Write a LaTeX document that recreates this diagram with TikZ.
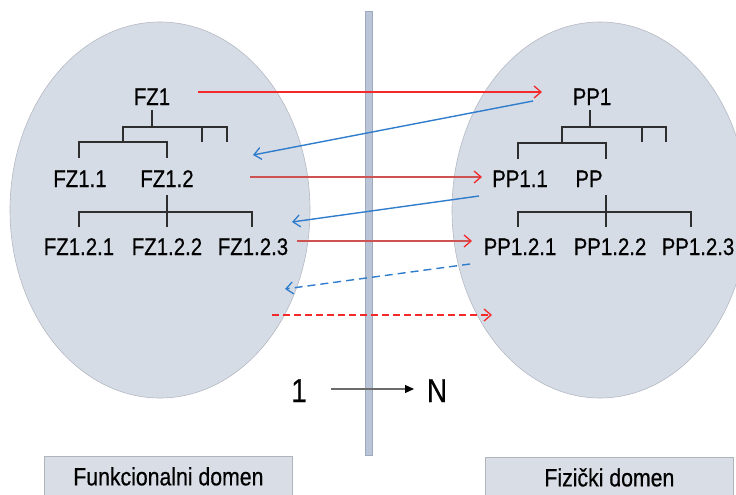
\documentclass[tikz,border=0pt]{standalone}
\usepackage{fontspec}
\setmainfont{Liberation Sans}[FakeStretch=0.85,FakeBold=0.5]
\usetikzlibrary{arrows.meta}
\definecolor{ellfill}{HTML}{D6DCE6}
\definecolor{elledge}{HTML}{B4B9C2}
\definecolor{barfill}{HTML}{BAC5D7}
\definecolor{baredge}{HTML}{9DAAC0}
\definecolor{boxfill}{HTML}{D8DDE6}
\definecolor{boxedge}{HTML}{B0B4BC}
\definecolor{redA}{HTML}{F42A2A}
\definecolor{redB}{HTML}{CF5252}
\definecolor{blueA}{HTML}{2F7DCC}
\definecolor{treecol}{HTML}{2E2E2E}
\tikzset{
  lbl/.style={inner sep=0pt, anchor=base, text=black, font=\fontsize{24}{24}\selectfont},
  big/.style={inner sep=0pt, anchor=base, text=black, font=\fontsize{33}{33}\selectfont},
  domainbox/.style={draw=boxedge, fill=boxfill, line width=0.8pt, minimum width=248pt, minimum height=40pt, inner sep=0pt, anchor=north west, font=\fontsize{25}{25}\selectfont},
  tree/.style={draw=treecol, line width=1.3pt},
  barb/.style={-{Straight Barb[length=7pt,width=12pt,line width=1.3pt]}},
  redarrow/.style={barb, draw=redA, line width=2pt},
  redarrowB/.style={-{Straight Barb[length=7pt,width=12pt,line width=1.3pt,color=redA]}, draw=redB, line width=2pt},
  bluearrow/.style={barb, draw=blueA, line width=1.4pt},
}
\begin{document}
\begin{tikzpicture}[x=1pt,y=-1pt]
\useasboundingbox (0,0) rectangle (736,495);
% domains
\fill[ellfill, draw=elledge, line width=0.6pt] (160,210) ellipse [x radius=150, y radius=188];
\fill[ellfill, draw=elledge, line width=0.6pt] (600,210) ellipse [x radius=148, y radius=188];
% separator bar
\fill[barfill, draw=baredge, line width=1pt] (365.5,12) rectangle (372.5,455);

% left tree labels
\node[lbl] (fz1) at (152,105) {FZ1};
\node[lbl] (fz11) at (80,187) {FZ1.1};
\node[lbl] (fz12) at (167,187) {FZ1.2};
\node[lbl] (fz121) at (79,255) {FZ1.2.1};
\node[lbl] (fz122) at (167,255) {FZ1.2.2};
\node[lbl] (fz123) at (253,255) {FZ1.2.3};
% right tree labels
\node[lbl] (pp1) at (592,105) {PP1};
\node[lbl] (pp11) at (520,187) {PP1.1};
\node[lbl] (pp) at (589,187) {PP};
\node[lbl] (pp121) at (520,255) {PP1.2.1};
\node[lbl] (pp122) at (610,255) {PP1.2.2};
\node[lbl] (pp123) at (698,255) {PP1.2.3};

% left tree lines
\draw[tree] (152,110) -- (152,127);
\draw[tree] (123,142) -- (123,127) -- (227,127) -- (227,142);
\draw[tree] (202,127) -- (202,142);
\draw[tree] (79,158) -- (79,142) -- (167,142) -- (167,158);
\draw[tree] (167,195) -- (167,227);
\draw[tree] (79,227) -- (79,212) -- (252,212) -- (252,227);
% right tree lines
\draw[tree] (590,110) -- (590,127);
\draw[tree] (562,143) -- (562,127) -- (666,127) -- (666,142);
\draw[tree] (642,127) -- (642,142);
\draw[tree] (518,159) -- (518,143) -- (606,143) -- (606,159);
\draw[tree] (606,195) -- (606,227);
\draw[tree] (518,227) -- (518,212) -- (691,212) -- (691,227);

% mapping arrows
\coordinate (r1s) at (198,92);  \coordinate (r1e) at (542,92);
\coordinate (b1s) at (533,101); \coordinate (b1e) at (253,155);
\coordinate (r2s) at (250,177); \coordinate (r2e) at (482,177);
\coordinate (b2s) at (479,196); \coordinate (b2e) at (292,222);
\coordinate (r3s) at (297,241); \coordinate (r3e) at (472,241);
\coordinate (b3s) at (470,264); \coordinate (b3e) at (285,289);
\coordinate (r4s) at (272,315); \coordinate (r4e) at (492,315);
\draw[redarrow] (r1s) -- (r1e);
\draw[bluearrow] (b1s) -- (b1e);
\draw[redarrowB] (r2s) -- (r2e);
\draw[bluearrow] (b2s) -- (b2e);
\draw[redarrowB] (r3s) -- (r3e);
\draw[bluearrow, dash pattern=on 8pt off 5pt] (b3s) -- (b3e);
\draw[redarrow, dash pattern=on 7pt off 4pt] (r4s) -- (r4e);

% 1 -> N
\node[big] (one) at (299,402) {1};
\node[big] (en) at (437,402) {N};
\draw[draw=gray!85!black, line width=1.2pt, -{Triangle[length=9pt,width=8pt,color=black]}] (331,389) -- (414,389);

% domain boxes
\node[domainbox] (fdom) at (44,456) {Funkcionalni domen};
\node[domainbox] (pdom) at (485,457) {Fizički domen};
\end{tikzpicture}
\end{document}
